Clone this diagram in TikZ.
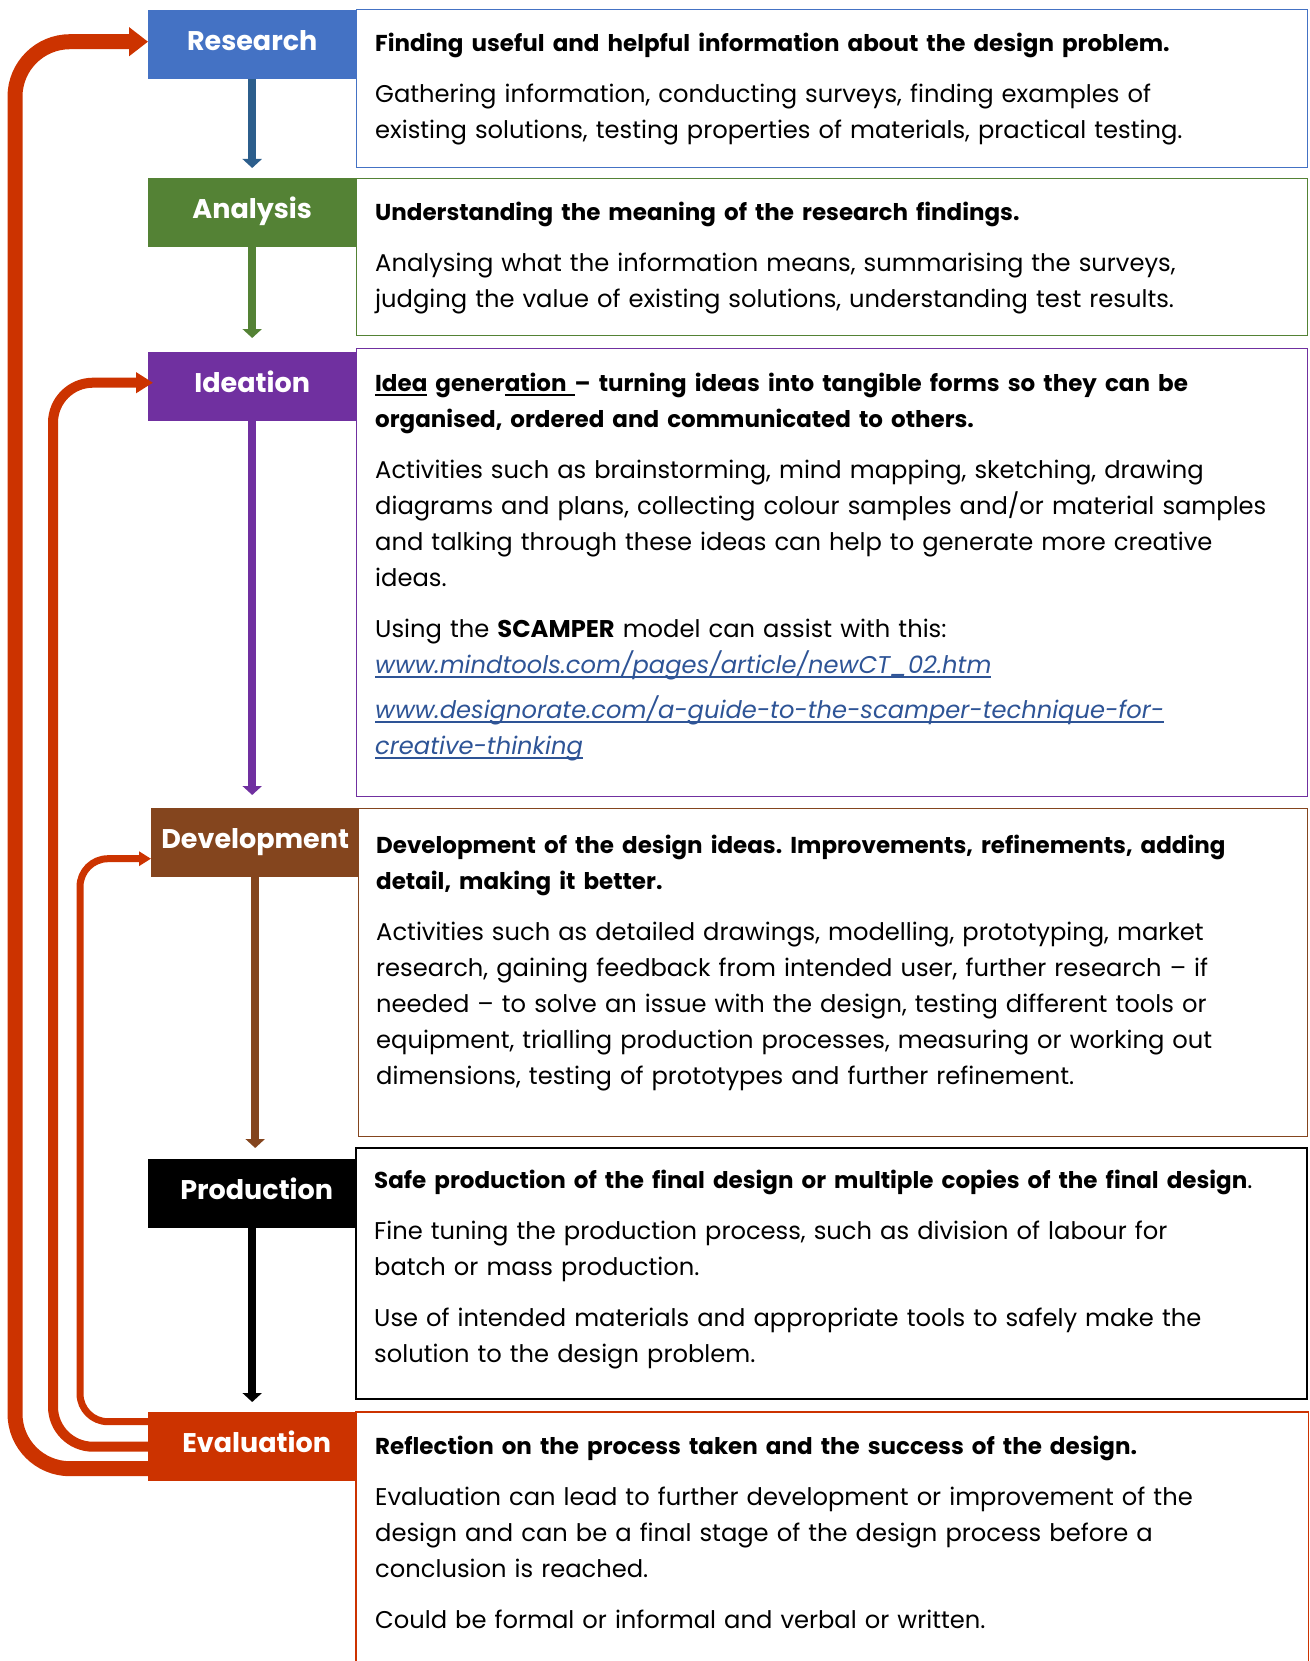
\documentclass[tikz,border=0pt]{standalone}
\usepackage{fontspec}
\setmainfont{Poppins}
\usetikzlibrary{arrows.meta}

\definecolor{resblue}{RGB}{68,114,196}
\definecolor{resdark}{RGB}{44,94,140}
\definecolor{anagreen}{RGB}{84,130,53}
\definecolor{ideapurple}{RGB}{112,48,160}
\definecolor{devbrown}{RGB}{132,69,30}
\definecolor{evalred}{RGB}{204,51,0}
\definecolor{linkblue}{RGB}{46,84,150}

\newsavebox{\ulbox}
\newcommand{\underl}[1]{\leavevmode\sbox{\ulbox}{#1}\rlap{\rule[-5pt]{\wd\ulbox}{1.6pt}}\usebox{\ulbox}}
\newcommand{\weblink}[1]{{\color{linkblue}\itshape\underl{#1}}}
\newcommand{\headline}[1]{{\fontsize{23}{36}\selectfont\bfseries #1}}
\frenchspacing

\begin{document}
\begin{tikzpicture}[x=1pt, y=-1pt,
    stage/.style={anchor=north west, minimum width=208pt, minimum height=69pt,
        inner sep=0pt, text height=20pt, text depth=9pt, text=white,
        font=\fontsize{27}{30}\selectfont\bfseries},
    infobox/.style={anchor=north west, minimum width=951pt, inner sep=0pt, line width=1.2pt},
    infotext/.style={anchor=base west, text width=915pt, align=left, inner sep=0pt,
        font=\fontsize{24.2}{36}\selectfont},
    flow/.style={line width=8pt, -{Triangle[width=19pt,length=9pt]}},
    feedback/.style={draw=evalred, rounded corners=#1},
]
\useasboundingbox (0,0) rectangle (1309,1661);

% text boxes on the right
\node[infobox, draw=resblue, minimum height=158pt] (researchbox) at (356,9) {};
\node[infobox, draw=anagreen, minimum height=157pt] (analysisbox) at (356,178) {};
\node[infobox, draw=ideapurple, minimum height=448pt] (ideationbox) at (356,348) {};
\node[infobox, draw=devbrown, minimum height=328pt, minimum width=949pt] (developmentbox) at (358,808) {};
\node[infobox, draw=black, line width=2pt, minimum height=251pt] (productionbox) at (355,1147) {};
\node[infobox, minimum height=249pt] (evaluationbox) at (356,1412) {};
\draw[evalred, line width=1.2pt] (evaluationbox.south west) |- (evaluationbox.north east)
    -- (evaluationbox.south east);

% stages
\node[stage, fill=resblue] (research) at (148,10) {Research};
\node[stage, fill=anagreen] (analysis) at (148,178) {Analysis};
\node[stage, fill=ideapurple] (ideation) at (148,352) {Ideation};
\node[stage, fill=devbrown] (development) at (151,808) {Development};
\node[stage, fill=black] (production) at (148,1159) {\hspace*{9pt}Production};
\node[stage, fill=evalred] (evaluation) at (148,1412) {\hspace*{9pt}Evaluation};

% texts
\node[infotext] (researchtext) at ([shift={(19pt,-43pt)}]researchbox.north west) {%
    \headline{Finding useful and helpful information about the design problem.}\\[15pt]
    Gathering information, conducting surveys, finding examples of\\
    existing solutions, testing properties of materials, practical testing.};
\node[infotext] (analysistext) at ([shift={(19pt,-43pt)}]analysisbox.north west) {%
    \headline{Understanding the meaning of the research findings.}\\[15pt]
    Analysing what the information means, summarising the surveys,\\
    judging the value of existing solutions, understanding test results.};
\node[infotext] (ideationtext) at ([shift={(19pt,-43pt)}]ideationbox.north west) {%
    \headline{\underl{Idea} gener\underl{ation\ }-- turning ideas into tangible forms so they can be}\\
    \headline{organised, ordered and communicated to others.}\\[15pt]
    Activities such as brainstorming, mind mapping, sketching, drawing\\
    diagrams and plans, collecting colour samples and/or material samples\\
    and talking through these ideas can help to generate more creative\\
    ideas.\\[15pt]
    Using the \textbf{SCAMPER} model can assist with this:\\
    \weblink{www.mindtools.com/pages/article/newCT\_02.htm}\\[9pt]
    \weblink{www.designorate.com/a-guide-to-the-scamper-technique-for-}\\
    \weblink{creative-thinking}};
\node[infotext] (developmenttext) at ([shift={(18pt,-45pt)}]developmentbox.north west) {%
    \headline{Development of the design ideas. Improvements, refinements, adding}\\
    \headline{detail, making it better.}\\[15pt]
    Activities such as detailed drawings, modelling, prototyping, market\\
    research, gaining feedback from intended user, further research -- if\\
    needed -- to solve an issue with the design, testing different tools or\\
    equipment, trialling production processes, measuring or working out\\
    dimensions, testing of prototypes and further refinement.};
\node[infotext] (productiontext) at ([shift={(19pt,-41pt)}]productionbox.north west) {%
    \headline{Safe production of the final design or multiple copies of the final design}.\\[15pt]
    Fine tuning the production process, such as division of labour for\\
    batch or mass production.\\[15pt]
    Use of intended materials and appropriate tools to safely make the\\
    solution to the design problem.};
\node[infotext] (evaluationtext) at ([shift={(19pt,-42pt)}]evaluationbox.north west) {%
    \headline{Reflection on the process taken and the success of the design.}\\[15pt]
    Evaluation can lead to further development or improvement of the\\
    design and can be a final stage of the design process before a\\
    conclusion is reached.\\[15pt]
    Could be formal or informal and verbal or written.};

% arrows down
\draw[flow, resdark] (research) -- ([yshift=10pt]research.south |- analysis.north);
\draw[flow, anagreen] (analysis) -- ([yshift=14pt]analysis.south |- ideation.north);
\draw[flow, ideapurple] (ideation) -- ([yshift=13pt]ideation.south |- development.north);
\draw[flow, devbrown] (development) -- ([yshift=11pt]development.south |- production.north);
\draw[flow, black] (production) -- ([yshift=10pt]production.south |- evaluation.north);

% feedback arrows
\coordinate (railout) at (15,0);
\coordinate (railmid) at (53,0);
\coordinate (railin) at (80,0);
\coordinate (evalout) at ([yshift=-22pt]evaluation.west);
\coordinate (evalmid) at (evaluation.west);
\coordinate (evalin) at ([yshift=25pt]evaluation.west);
\coordinate (researchin) at ([yshift=3pt]research.west);
\coordinate (ideationin) at ([yshift=4pt]ideation.west);
\coordinate (developmentin) at ([yshift=-16pt]development.west);
\draw[feedback=55pt, line width=15pt, -{Triangle[width=28pt,length=19pt]}]
    (evalout) -- (evalout -| railout) -- (researchin -| railout) -- (researchin);
\draw[feedback=40pt, line width=10pt, -{Triangle[width=20pt,length=17pt]}]
    (evalmid) -- (evalmid -| railmid) -- (ideationin -| railmid) -- ([xshift=5pt]ideationin);
\draw[feedback=28pt, line width=7pt, -{Triangle[width=14pt,length=12pt]}]
    (evalin) -- (evalin -| railin) -- (developmentin -| railin) -- (developmentin);
\end{tikzpicture}
\end{document}
